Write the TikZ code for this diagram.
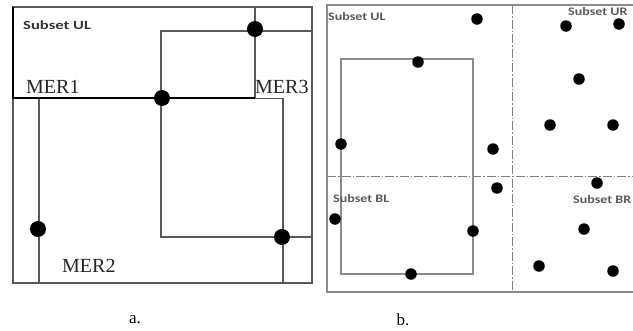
\documentclass[tikz,border=0pt]{standalone}
\usepackage{fontspec}
\setmainfont{Liberation Serif}
\newfontfamily\lblfont{Carlito}
\newcommand{\stretchA}[1]{\scalebox{1.33}[1]{#1}}
\newcommand{\stretchB}[1]{\scalebox{1.22}[1]{#1}}
\begin{document}
\begin{tikzpicture}[x=1pt,y=-1pt,
  frameA/.style={draw=black!65,line width=1.6pt},
  ulline/.style={draw=black,line width=2.2pt},
  frameB/.style={draw=black!45,line width=1.3pt},
  dashdot/.style={draw=black!50,line width=1pt,dash pattern=on 9pt off 2pt on 1.5pt off 2pt},
  bigdot/.style={circle,fill=black,inner sep=0pt,minimum size=16pt},
  smalldot/.style={circle,fill=black,inner sep=0pt,minimum size=11.5pt},
  merlbl/.style={font=\fontsize{20}{20}\selectfont,inner sep=0pt,text=black!85},
  sublblA/.style={font=\lblfont\bfseries\fontsize{12.5}{12}\selectfont,inner sep=0pt,text=black!80},
  sublblB/.style={font=\lblfont\bfseries\fontsize{11.5}{12}\selectfont,inner sep=0pt,text=black!65},
  caplbl/.style={font=\fontsize{17}{17}\selectfont,inner sep=0pt}
]
\useasboundingbox (0,0) rectangle (633,330);
% ---------- panel a ----------
\draw[frameA] (13,7) rectangle (312,283);
\draw[frameA] (255,7) -- (255,98);
\draw[frameA] (312,31) -- (161,31) -- (161,237) -- (312,237);
\draw[frameA] (39,283) -- (39,98.5) -- (283,98.5) -- (283,283);
\draw[ulline] (13,7) -- (13,98) -- (255,98);
\node[sublblA,anchor=west] (ulA) at (23,25) {\stretchA{Subset UL}};
\node[merlbl,anchor=base west] (mer1) at (26,93) {MER1};
\node[merlbl,anchor=base west] (mer3) at (255,93) {MER3};
\node[merlbl,anchor=base west] (mer2) at (62,272) {MER2};
\node[bigdot] (a1) at (255,29) {};
\node[bigdot] (a2) at (162,98) {};
\node[bigdot] (a3) at (38,229) {};
\node[bigdot] (a4) at (282,237) {};
% ---------- panel b ----------
\draw[frameB] (633,5) -- (327,5) -- (327,292) -- (633,292);
\draw[dashdot] (512,5) -- (512,292);
\draw[dashdot] (327,176) -- (633,176);
\draw[frameB] (341,59) rectangle (473,274);
\node[sublblB,anchor=west] (ulB) at (328,17) {\stretchB{Subset UL}};
\node[sublblB,anchor=west] (urB) at (568,12) {\stretchB{Subset UR}};
\node[sublblB,anchor=west] (blB) at (333,199) {\stretchB{Subset BL}};
\node[sublblB,anchor=west] (brB) at (573,200) {\stretchB{Subset BR}};
\node[smalldot] (b1) at (477,19) {};
\node[smalldot] (b2) at (418,62) {};
\node[smalldot] (b3) at (341,144) {};
\node[smalldot] (b4) at (493,149) {};
\node[smalldot] (b5) at (497,188) {};
\node[smalldot] (b6) at (335,219) {};
\node[smalldot] (b7) at (473,231) {};
\node[smalldot] (b8) at (411,274) {};
\node[smalldot] (b9) at (566,26) {};
\node[smalldot] (b10) at (619,24) {};
\node[smalldot] (b11) at (579,79) {};
\node[smalldot] (b12) at (550,125) {};
\node[smalldot] (b13) at (613,125) {};
\node[smalldot] (b14) at (597,183) {};
\node[smalldot] (b15) at (584,229) {};
\node[smalldot] (b16) at (539,266) {};
\node[smalldot] (b17) at (613,271) {};
% ---------- captions ----------
\node[caplbl] (capa) at (135,320) {a.};
\node[caplbl] (capb) at (403,320) {b.};
\end{tikzpicture}
\end{document}
